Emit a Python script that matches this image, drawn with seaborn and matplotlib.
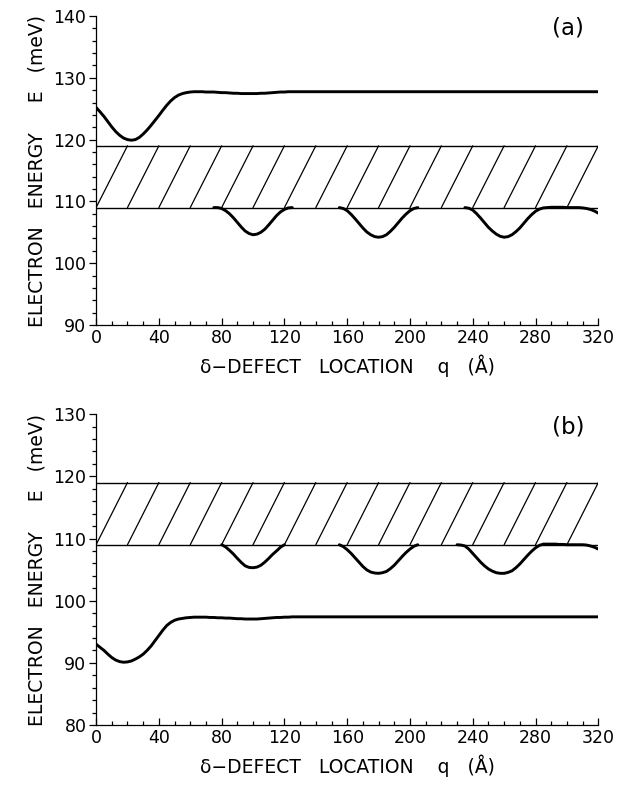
import numpy as np
import pandas as pd
import matplotlib
matplotlib.use("Agg")
import matplotlib.pyplot as plt
from matplotlib.ticker import MultipleLocator
import seaborn as sns

# ---------------- data ----------------
q = [i * 2.5 for i in range(129)]  # defect location (Å), 0 ... 320

nan = np.nan
# panel (a): state above the band
a_upper = [125.2, 124.5, 123.75, 122.9, 122.05, 121.3, 120.7, 120.25, 120.0, 119.9,
           120.0, 120.35, 120.9, 121.55, 122.3, 123.1, 123.9, 124.75, 125.55, 126.25,
           126.8, 127.2, 127.45, 127.6, 127.7, 127.75, 127.75, 127.75, 127.7, 127.7,
           127.7, 127.65, 127.6, 127.6, 127.55, 127.5, 127.5, 127.45, 127.45, 127.45,
           127.45, 127.45, 127.5, 127.5, 127.55, 127.6, 127.65, 127.7, 127.7, 127.75] + [127.75] * 79
# panel (a): states split off below the band
a_lower = ([nan] * 30 +
           [109.0, 109.0, 108.85, 108.5, 108.0, 107.35, 106.6, 105.85, 105.2, 104.8,
            104.6, 104.7, 105.0, 105.5, 106.2, 106.95, 107.7, 108.3, 108.7, 108.95, 109.0] +
           [nan] * 11 +
           [109.0, 108.85, 108.5, 107.9, 107.2, 106.45, 105.7, 105.05, 104.6, 104.3,
            104.2, 104.3, 104.6, 105.15, 105.8, 106.55, 107.3, 107.95, 108.5, 108.85, 109.0] +
           [nan] * 11 +
           [109.0, 108.9, 108.6, 108.0, 107.3, 106.55, 105.8, 105.2, 104.7, 104.35,
            104.2, 104.3, 104.6, 105.1, 105.7, 106.45, 107.2, 107.85, 108.4, 108.75, 108.95,
            109.0, 109.05, 109.05, 109.05, 109.05, 109.0, 109.0, 109.0, 109.0, 108.95,
            108.85, 108.7, 108.45, 108.1])
# panel (b): states split off below the band
b_upper = ([nan] * 32 +
           [109.0, 108.65, 108.1, 107.5, 106.8, 106.15, 105.6, 105.35, 105.3, 105.4,
            105.7, 106.2, 106.8, 107.45, 108.0, 108.6, 109.0] +
           [nan] * 13 +
           [109.0, 108.7, 108.2, 107.6, 106.9, 106.2, 105.5, 104.95, 104.6, 104.45,
            104.4, 104.5, 104.7, 105.15, 105.7, 106.4, 107.1, 107.75, 108.3, 108.75, 109.0] +
           [nan] * 9 +
           [109.0, 108.95, 108.8, 108.3, 107.6, 106.9, 106.2, 105.6, 105.1, 104.75,
            104.5, 104.4, 104.4, 104.55, 104.8, 105.3, 105.9, 106.6, 107.3, 107.95,
            108.5, 108.9, 109.1,
            109.1, 109.1, 109.1, 109.05, 109.05, 109.0, 109.0, 109.0, 109.0, 109.0,
            108.95, 108.8, 108.6, 108.3])
# panel (b): deep bound state
b_lower = [93.0, 92.5, 92.0, 91.4, 90.85, 90.45, 90.2, 90.1, 90.15, 90.3,
           90.6, 90.95, 91.4, 92.0, 92.7, 93.55, 94.4, 95.25, 96.0, 96.5,
           96.85, 97.05, 97.15, 97.25, 97.3, 97.35, 97.35, 97.35, 97.35, 97.3,
           97.3, 97.25, 97.25, 97.2, 97.2, 97.15, 97.1, 97.1, 97.05, 97.05,
           97.05, 97.05, 97.1, 97.15, 97.2, 97.25, 97.3, 97.3, 97.35, 97.35] + [97.4] * 79

band_bottom = 109.0
band_top = 119.0
hatch_step = 20
q_max = 320

panels = [
    dict(label="(a)", ylim=(90, 140), curves=[a_upper, a_lower]),
    dict(label="(b)", ylim=(80, 130), curves=[b_upper, b_lower]),
]

xlabel = "δ\u2212DEFECT   LOCATION    q   (Å)"
ylabel = "ELECTRON   ENERGY     E   (meV)"

# ---------------- style ----------------
sns.set_style("ticks")
plt.rcParams["font.family"] = ["DejaVu Sans"]
plt.rcParams["axes.linewidth"] = 0.9
for k in ["text.color", "axes.labelcolor", "xtick.color", "ytick.color", "axes.edgecolor"]:
    plt.rcParams[k] = "black"

fig = plt.figure(figsize=(6.2, 7.85), dpi=100)
ax_a = fig.add_axes([0.155, 0.586, 0.81, 0.3936])
ax_b = fig.add_axes([0.155, 0.0764, 0.81, 0.396])


def segments(xs, ys):
    seg_x, seg_y = [], []
    for x, y in zip(xs, ys):
        if np.isnan(y):
            if len(seg_x) > 1:
                yield seg_x, seg_y
            seg_x, seg_y = [], []
        else:
            seg_x.append(x)
            seg_y.append(y)
    if len(seg_x) > 1:
        yield seg_x, seg_y


for ax, p in zip([ax_a, ax_b], panels):
    # band edges
    ax.plot([0, q_max], [band_top, band_top], color="black", lw=1.0)
    ax.plot([0, q_max], [band_bottom, band_bottom], color="black", lw=1.0)
    # hatch lines in band
    for x0 in range(0, q_max, hatch_step):
        ax.plot([x0, x0 + hatch_step], [band_bottom, band_top], color="black", lw=0.9)
    # curves
    for curve in p["curves"]:
        for sx, sy in segments(q, curve):
            df = pd.DataFrame({"q": sx, "E": sy})
            sns.lineplot(data=df, x="q", y="E", ax=ax, color="black", lw=2.1,
                         estimator=None, sort=False, solid_joinstyle="round",
                         solid_capstyle="round")

    ax.set_xlim(0, q_max)
    ax.set_ylim(*p["ylim"])
    ax.xaxis.set_major_locator(MultipleLocator(40))
    ax.xaxis.set_minor_locator(MultipleLocator(10))
    ax.yaxis.set_major_locator(MultipleLocator(10))
    ax.yaxis.set_minor_locator(MultipleLocator(2))
    ax.tick_params(axis="x", which="major", direction="in", length=5, width=0.9,
                   labelsize=12.5, pad=3)
    ax.tick_params(axis="x", which="minor", direction="in", length=3, width=0.9)
    ax.tick_params(axis="y", which="major", direction="out", length=5, width=0.9,
                   labelsize=12.5, pad=2)
    ax.tick_params(axis="y", which="minor", direction="out", length=3, width=0.9)
    sns.despine(ax=ax)
    ax.set_xlabel(xlabel, fontsize=13.5, labelpad=5)
    ax.set_ylabel(ylabel, fontsize=13.5, labelpad=5)
    ax.text(0.94, 0.96, p["label"], transform=ax.transAxes, fontsize=16.5,
            ha="center", va="center")

fig.savefig("out.png", dpi=100)
